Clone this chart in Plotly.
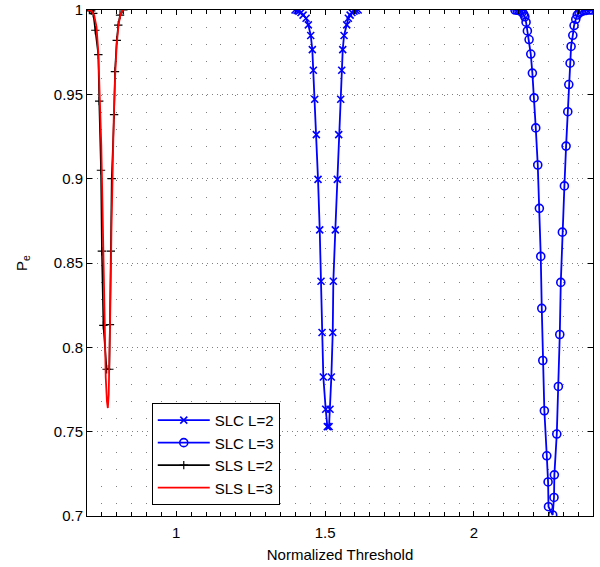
import plotly.graph_objects as go

# ---- data ----
slc2_x = [1.399, 1.406, 1.412, 1.419, 1.426, 1.436, 1.4436, 1.4517, 1.457, 1.4604, 1.4651, 1.4705,
          1.4762, 1.4819, 1.4863, 1.4897, 1.494, 1.502, 1.5075, 1.5132, 1.5165, 1.5209, 1.5256,
          1.5276, 1.5343, 1.541, 1.5457, 1.5525, 1.5558, 1.5592, 1.5636, 1.5726, 1.578, 1.584,
          1.590, 1.597, 1.604, 1.611]
slc2_y = [1.0, 0.9997, 0.9993, 0.9985, 0.997, 0.9951, 0.9912, 0.9849, 0.9765, 0.9643, 0.9471, 0.9261,
          0.8996, 0.8696, 0.8392, 0.8088, 0.7824, 0.7633, 0.753, 0.753, 0.7633, 0.7824, 0.8088,
          0.8392, 0.8696, 0.8996, 0.9261, 0.9471, 0.9643, 0.9765, 0.9849, 0.9912, 0.9951, 0.997,
          0.9985, 0.9993, 0.9997, 1.0]

slc3_x = [2.138, 2.145, 2.151, 2.157, 2.162, 2.167, 2.171, 2.1751, 2.1795, 2.1852, 2.1909, 2.1963,
          2.2020, 2.2077, 2.2144, 2.2198, 2.2245, 2.2279, 2.2313, 2.2366, 2.2447, 2.2491, 2.2505,
          2.2645, 2.2690, 2.2702, 2.2783, 2.2837, 2.2884, 2.2918, 2.2971, 2.3039, 2.3096, 2.3153,
          2.3187, 2.3230, 2.3264, 2.3321, 2.3364, 2.3421, 2.347, 2.353, 2.360, 2.368, 2.377, 2.387,
          2.397, 2.41]
slc3_y = [1.0, 0.9999, 0.9997, 0.9993, 0.9987, 0.9975, 0.996, 0.9928, 0.9876, 0.9825, 0.9739, 0.9626,
          0.9479, 0.9301, 0.9081, 0.8824, 0.8539, 0.8231, 0.7922, 0.7624, 0.7357, 0.7202, 0.7055,
          0.7006, 0.7110, 0.7244, 0.7486, 0.7768, 0.8076, 0.8385, 0.8683, 0.8957, 0.9193, 0.9397,
          0.9558, 0.9685, 0.9784, 0.9850, 0.9908, 0.9945, 0.997, 0.9982, 0.999, 0.9995, 0.9998, 1.0,
          1.0, 1.0]

sls2_x = [0.708, 0.714, 0.721, 0.728, 0.738, 0.741, 0.747, 0.750, 0.755, 0.766, 0.775, 0.777, 0.780,
          0.783, 0.791, 0.794, 0.800, 0.805, 0.811, 0.822]
sls2_y = [1.0, 0.9995, 0.998, 0.988, 0.9735, 0.946, 0.905, 0.857, 0.813, 0.787, 0.787, 0.8135, 0.857,
          0.900, 0.938, 0.9635, 0.982, 0.991, 0.997, 1.0]

sls3_x = [0.703, 0.715, 0.724, 0.732, 0.738, 0.743, 0.748, 0.753, 0.758, 0.763, 0.767, 0.770, 0.773,
          0.776, 0.779, 0.782, 0.786, 0.790, 0.795, 0.800, 0.806, 0.812, 0.818, 0.824]
sls3_y = [1.0, 0.9995, 0.997, 0.99, 0.975, 0.953, 0.92, 0.875, 0.815, 0.782, 0.768, 0.764, 0.772,
          0.795, 0.83, 0.868, 0.905, 0.937, 0.963, 0.98, 0.991, 0.997, 0.9995, 1.0]

x_range = [0.7, 2.4]
y_range = [0.7, 1.0]
x_ticks = [1, 1.5, 2]
x_ticklabels = ["1", "1.5", "2"]
y_ticks = [0.7, 0.75, 0.8, 0.85, 0.9, 0.95, 1.0]
y_ticklabels = ["0.7", "0.75", "0.8", "0.85", "0.9", "0.95", "1"]

FONT = "Liberation Sans, Arial, Helvetica, sans-serif"
BLUE = "#0000ff"

fig = go.Figure()
fig.add_trace(go.Scatter(x=slc2_x, y=slc2_y, mode="lines+markers", name="SLC L=2",
                         line=dict(color=BLUE, width=1.8),
                         marker=dict(symbol="x-thin", size=7, line=dict(color=BLUE, width=1.6))))
fig.add_trace(go.Scatter(x=slc3_x, y=slc3_y, mode="lines+markers", name="SLC L=3",
                         line=dict(color=BLUE, width=1.8),
                         marker=dict(symbol="circle-open", size=8, color=BLUE,
                                     line=dict(color=BLUE, width=1.6))))
fig.add_trace(go.Scatter(x=sls2_x, y=sls2_y, mode="lines+markers", name="SLS L=2",
                         line=dict(color="black", width=1.6),
                         marker=dict(symbol="cross-thin", size=6, line=dict(color="black", width=1.2))))
fig.add_trace(go.Scatter(x=sls3_x, y=sls3_y, mode="lines", name="SLS L=3",
                         line=dict(color="#ff0000", width=1.8)))

GRID = "#808080"
fig.update_layout(
    width=600, height=567,
    margin=dict(l=87, r=7, t=10, b=51, autoexpand=False),
    paper_bgcolor="white", plot_bgcolor="white",
    font=dict(family=FONT, size=15, color="black"),
    showlegend=True,
    legend=dict(x=0.128, y=0.2235, xanchor="left", yanchor="top",
                bgcolor="white", bordercolor="black", borderwidth=1,
                font=dict(family=FONT, size=15), itemwidth=52, tracegroupgap=0),
    xaxis=dict(range=x_range, tickmode="array", tickvals=x_ticks, ticktext=x_ticklabels,
               ticks="inside", ticklen=5, tickcolor="black", ticklabelstandoff=3,
               ticklabeloverflow="allow", automargin=False,
               showline=True, linecolor="black", linewidth=1, mirror="ticks",
               showgrid=True, gridcolor=GRID, griddash="1px,16px", gridwidth=1, zeroline=False,
               minor=dict(tick0=0, dtick=0.05, ticks="inside", ticklen=4, tickcolor="black",
                          showgrid=True, gridcolor=GRID, griddash="1px,16px", gridwidth=1),
               title=dict(text="Normalized Threshold", font=dict(size=15), standoff=9),
               tickfont=dict(size=15)),
    yaxis=dict(range=y_range, tickmode="array", tickvals=y_ticks, ticktext=y_ticklabels,
               ticks="inside", ticklen=5, tickcolor="black", ticklabeloverflow="allow",
               automargin=False,
               showline=True, linecolor="black", linewidth=1, mirror="ticks",
               showgrid=True, gridcolor=GRID, griddash="1px,4px", gridwidth=1, zeroline=False,
               title=dict(text="P<sub>e</sub>", font=dict(size=15), standoff=22),
               tickfont=dict(size=15)),
)

fig.write_html("out.html")
